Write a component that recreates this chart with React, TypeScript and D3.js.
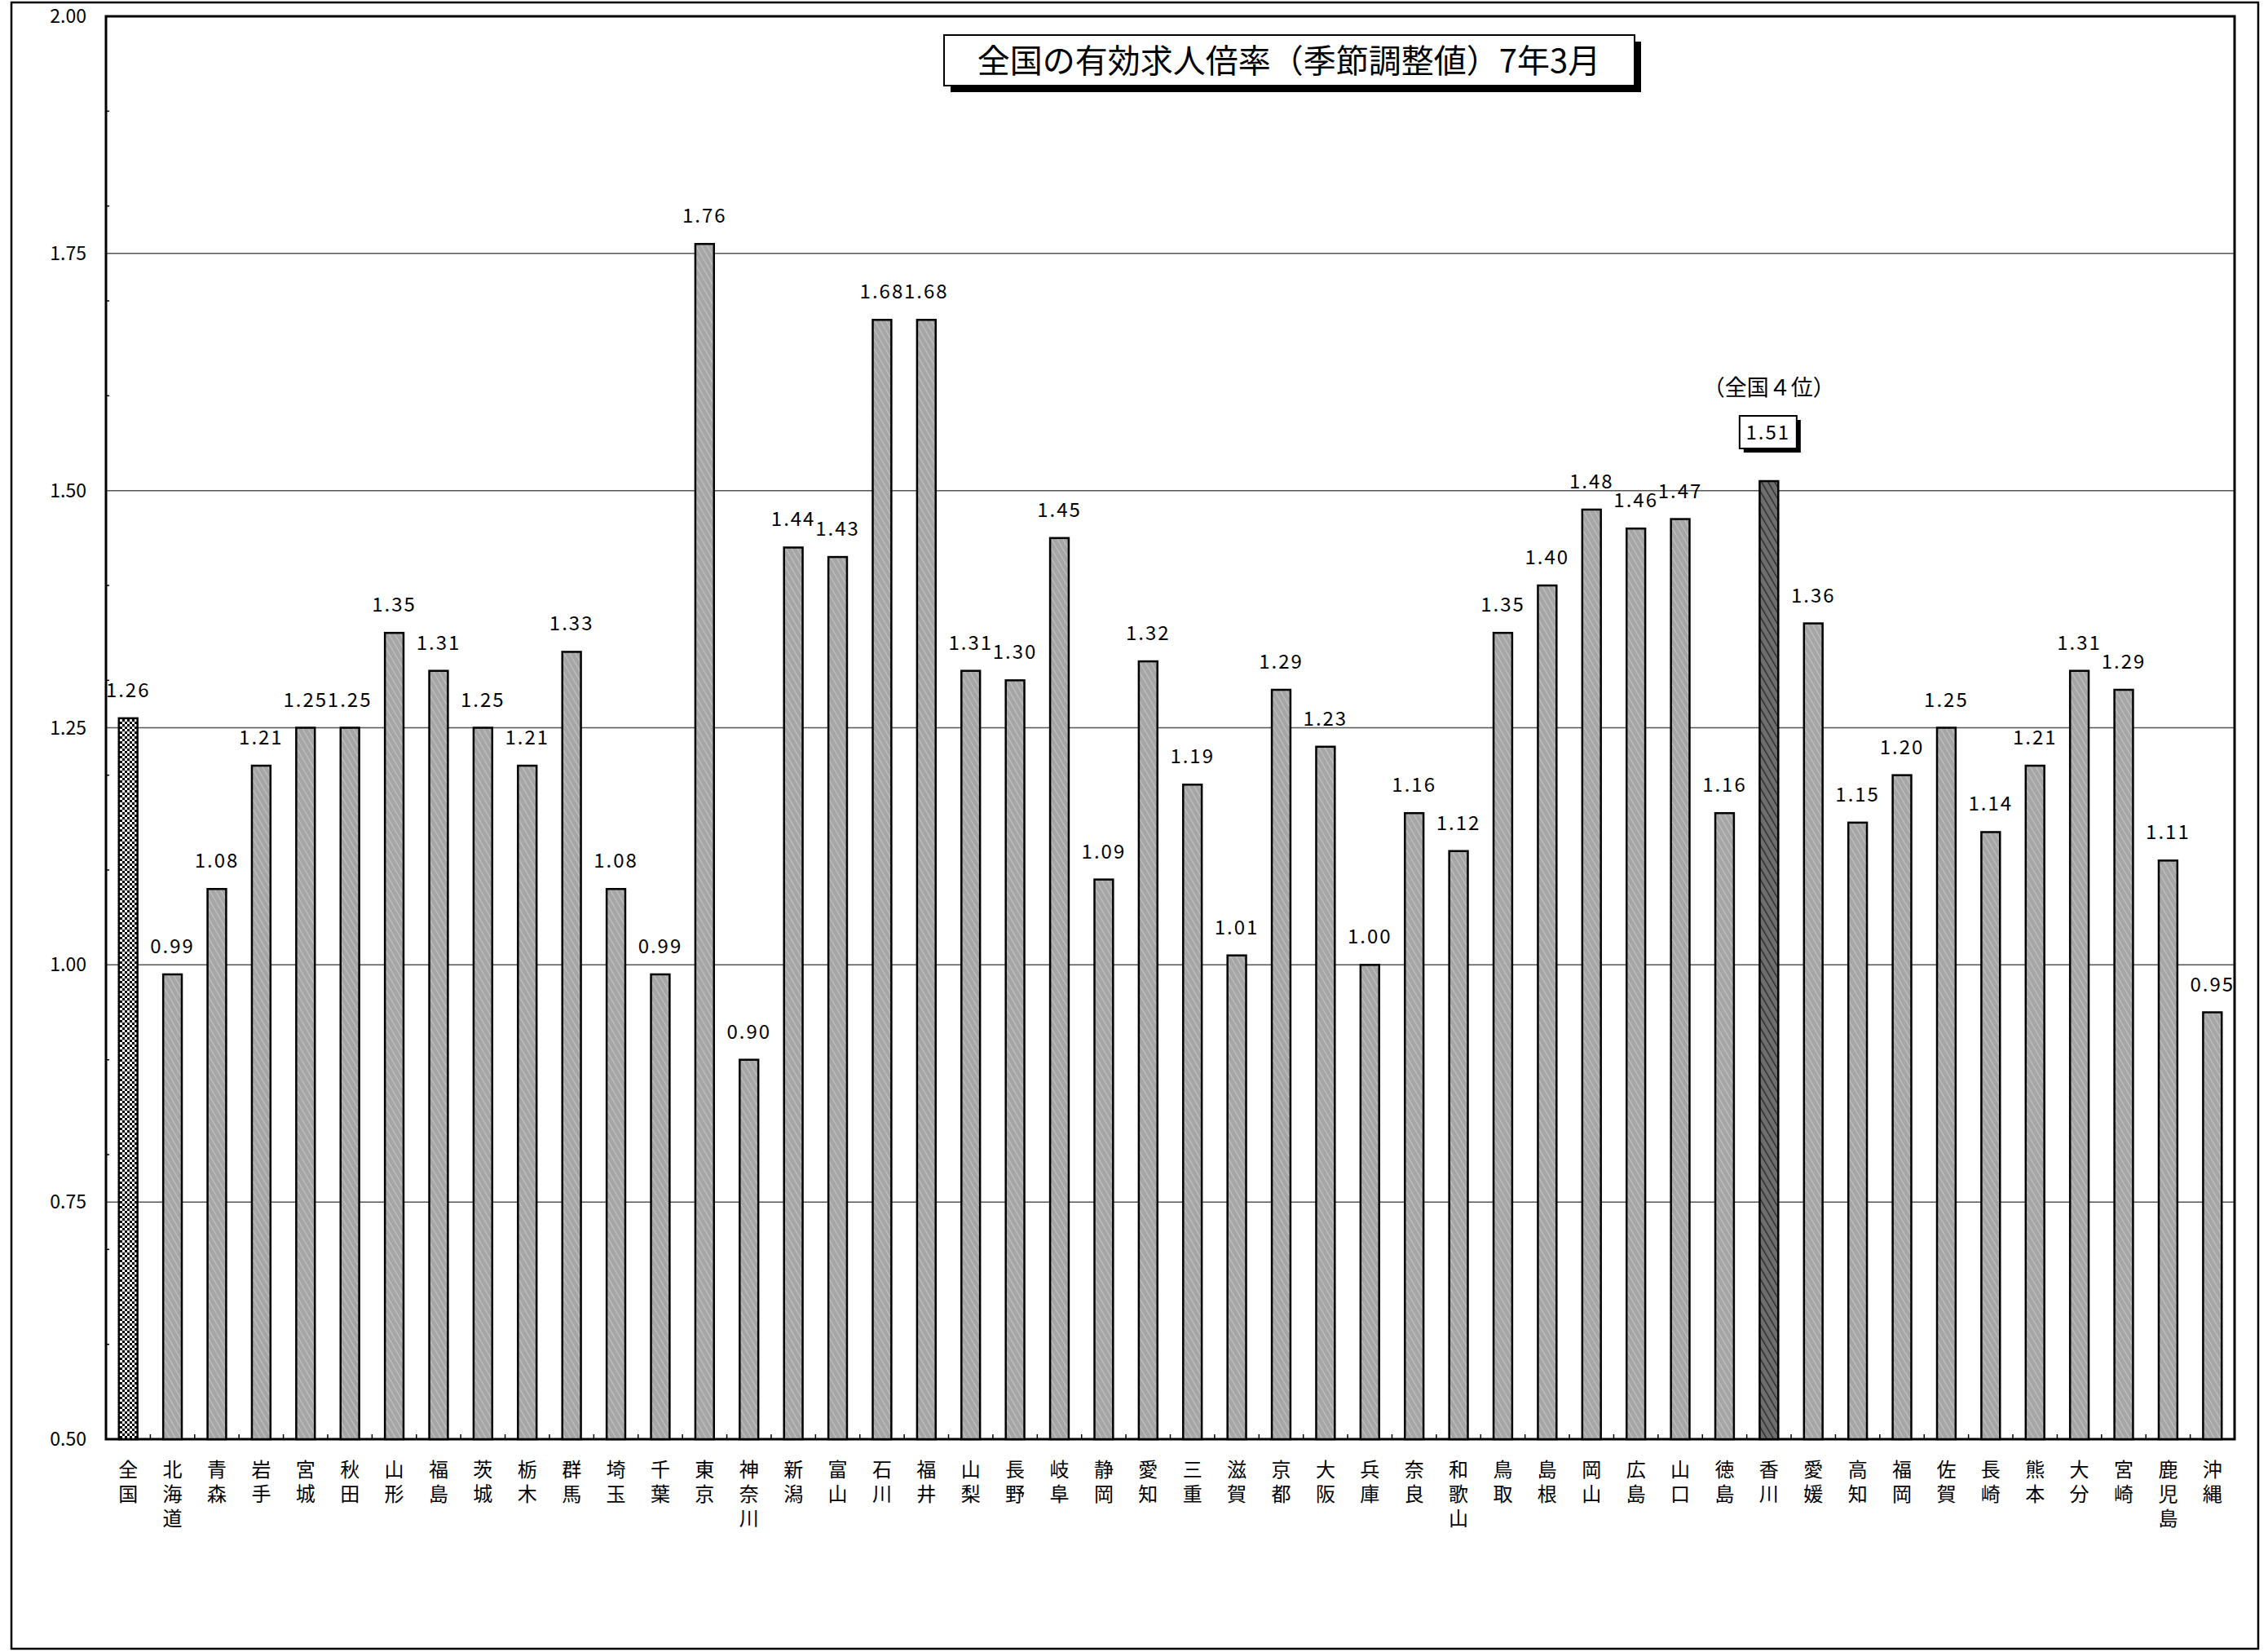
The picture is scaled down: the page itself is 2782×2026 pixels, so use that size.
import React from 'react';
import * as d3 from 'd3';

const prefectures = ['全国','北海道','青森','岩手','宮城','秋田','山形','福島','茨城','栃木','群馬','埼玉','千葉','東京','神奈川','新潟','富山','石川','福井','山梨','長野','岐阜','静岡','愛知','三重','滋賀','京都','大阪','兵庫','奈良','和歌山','鳥取','島根','岡山','広島','山口','徳島','香川','愛媛','高知','福岡','佐賀','長崎','熊本','大分','宮崎','鹿児島','沖縄'];
const ratios = [1.26,0.99,1.08,1.21,1.25,1.25,1.35,1.31,1.25,1.21,1.33,1.08,0.99,1.76,0.90,1.44,1.43,1.68,1.68,1.31,1.30,1.45,1.09,1.32,1.19,1.01,1.29,1.23,1.00,1.16,1.12,1.35,1.40,1.48,1.46,1.47,1.16,1.51,1.36,1.15,1.20,1.25,1.14,1.21,1.31,1.29,1.11,0.95];
const majorTicks = [0.5, 0.75, 1.0, 1.25, 1.5, 1.75, 2.0];
const minorTicks = [0.6, 0.7, 0.8, 0.9, 1.1, 1.2, 1.3, 1.4, 1.6, 1.7, 1.8, 1.9];
const title = '全国の有効求人倍率（季節調整値）7年3月';
const highlight = '香川';
const rankNote = '（全国４位）';

const W = 2782, H = 2026;
const m = { left: 130, top: 20, right: 2741, bottom: 1765 };
const font = '"Noto Sans CJK JP", sans-serif';

export default function App() {
  const x = d3.scaleBand<string>().domain(prefectures).range([m.left, m.right]).paddingInner(0.58).paddingOuter(0.29);
  const y = d3.scaleLinear().domain([0.5, 2.0]).range([m.bottom, m.top]);
  const band = x.step();

  return (
    <svg width={W} height={H} style={{ position: 'absolute', left: 0, top: 0, background: '#fff' }} fontFamily={font}>
      <defs>
        <pattern id="hatch" width="6" height="6" patternUnits="userSpaceOnUse" patternTransform="rotate(-30)">
          <rect width="6" height="6" fill="#a6a6a6" />
          <line x1="0" y1="0" x2="0" y2="6" stroke="#d0d0d0" strokeWidth="1.5" />
        </pattern>
        <pattern id="hatchDark" width="7" height="7" patternUnits="userSpaceOnUse" patternTransform="rotate(-30)">
          <rect width="7" height="7" fill="#6e6e6e" />
          <line x1="0" y1="0" x2="0" y2="7" stroke="#222" strokeWidth="2.5" />
        </pattern>
        <pattern id="checker" width="6" height="6" patternUnits="userSpaceOnUse">
          <rect width="6" height="6" fill="#fff" />
          <rect width="3" height="3" fill="#000" />
          <rect x="3" y="3" width="3" height="3" fill="#000" />
        </pattern>
      </defs>
      <rect x={14} y={3} width={2756} height={2019} fill="none" stroke="#000" strokeWidth={2.5} />
      {majorTicks.slice(1, -1).map(t => (
        <line key={t} x1={m.left} x2={m.right} y1={y(t)} y2={y(t)} stroke="#555" strokeWidth={1.5} />
      ))}
      {minorTicks.map(t => (
        <line key={t} x1={m.left} x2={m.left + 4} y1={y(t)} y2={y(t)} stroke="#000" strokeWidth={1.5} />
      ))}
      {prefectures.map((p, i) => i > 0 && (
        <line key={p} x1={m.left + band * i} x2={m.left + band * i} y1={m.bottom} y2={m.bottom - 6} stroke="#000" strokeWidth={1.5} />
      ))}
      {majorTicks.map(t => (
        <text key={t} x={106} y={y(t) + 8} textAnchor="end" fontSize={23}>{t.toFixed(2)}</text>
      ))}
      <rect x={m.left} y={m.top} width={m.right - m.left} height={m.bottom - m.top} fill="none" stroke="#000" strokeWidth={3} />
      {prefectures.map((p, i) => {
        const bx = x(p)!;
        const top = y(ratios[i]);
        const fill = i === 0 ? 'url(#checker)' : p === highlight ? 'url(#hatchDark)' : 'url(#hatch)';
        const cx = bx + x.bandwidth() / 2;
        return (
          <g key={p}>
            <rect x={bx} y={top} width={x.bandwidth()} height={m.bottom - top} fill={fill} stroke="#000" strokeWidth={2.5} />
            {p === highlight ? (
              <g>
                <text x={cx} y={485} textAnchor="middle" fontSize={27}>{rankNote}</text>
                <rect x={cx - 31} y={515} width={70} height={40} fill="#000" />
                <rect x={cx - 36} y={510} width={70} height={40} fill="#fff" stroke="#000" strokeWidth={2} />
                <text x={cx - 1} y={539} textAnchor="middle" fontSize={24} letterSpacing={2}>{ratios[i].toFixed(2)}</text>
              </g>
            ) : (
              <text x={cx} y={top - 26} textAnchor="middle" fontSize={24} letterSpacing={2}>{ratios[i].toFixed(2)}</text>
            )}
            <text x={cx} y={1790} fontSize={24} letterSpacing={6} style={{ writingMode: 'vertical-rl' }}>{p}</text>
          </g>
        );
      })}
      <rect x={1166} y={51} width={847} height={62} fill="#000" />
      <rect x={1158} y={43} width={847} height={62} fill="#fff" stroke="#000" strokeWidth={2} />
      <text x={1581} y={89} textAnchor="middle" fontSize={40}>{title}</text>
    </svg>
  );
}
